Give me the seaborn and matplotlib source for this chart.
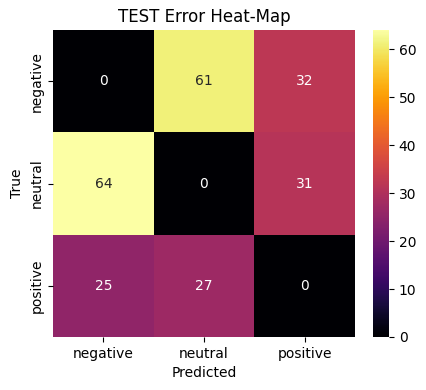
import matplotlib
matplotlib.use("Agg")
import matplotlib.pyplot as plt
import seaborn as sns
import pandas as pd

labels = ["negative", "neutral", "positive"]
row_negative = [0, 61, 32]
row_neutral = [64, 0, 31]
row_positive = [25, 27, 0]

cm = pd.DataFrame([row_negative, row_neutral, row_positive], index=labels, columns=labels)

W, H = 426, 390
fig = plt.figure(figsize=(W / 100, H / 100), dpi=100)
ax = fig.add_axes([53 / W, (H - 337) / H, (355 - 53) / W, (337 - 30) / H])
cax = fig.add_axes([373 / W, (H - 337) / H, (389 - 373) / W, (337 - 30) / H])
sns.heatmap(cm, annot=True, fmt="d", cmap="inferno", ax=ax, cbar_ax=cax)
ax.set_title("TEST Error Heat-Map")
ax.set_xlabel("Predicted")
ax.set_ylabel("True")
fig.savefig("out.png", dpi=100)
plt.close(fig)
